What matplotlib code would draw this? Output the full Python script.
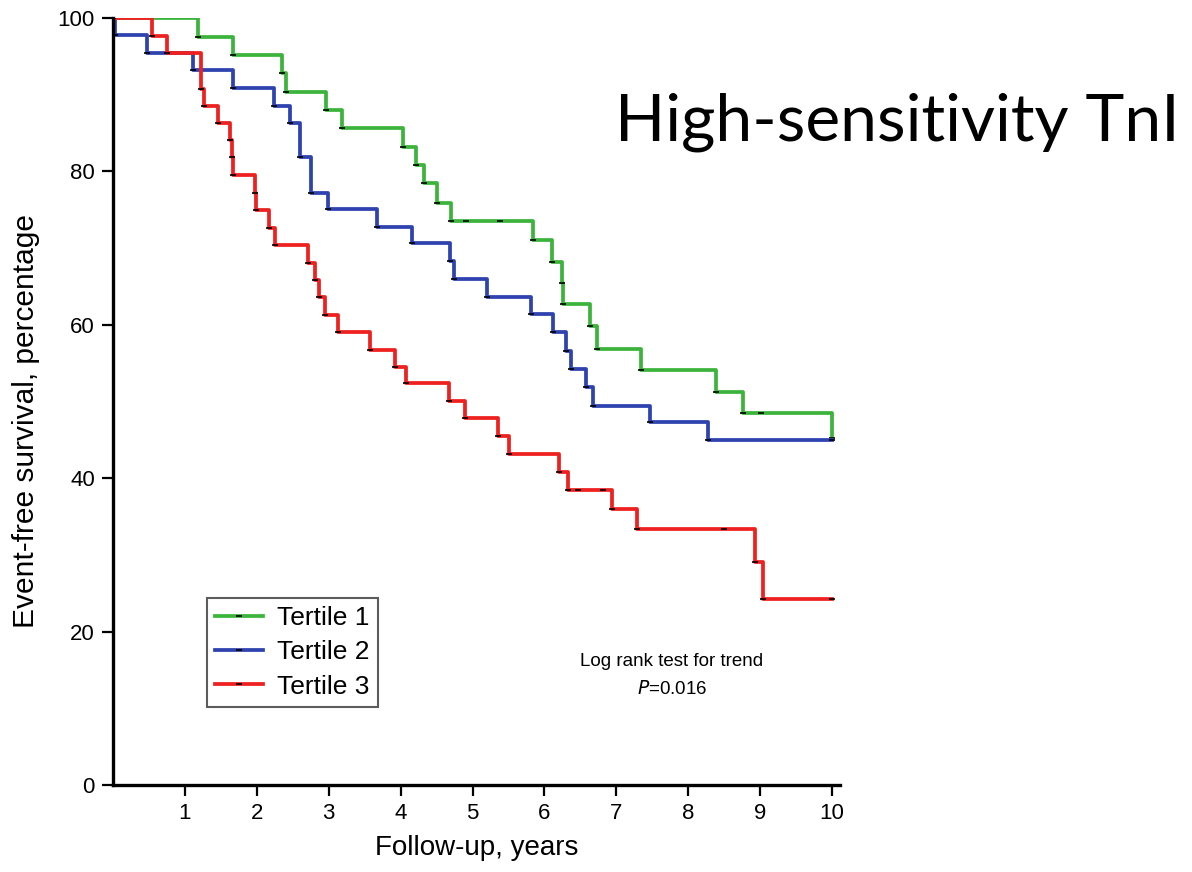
import matplotlib
matplotlib.use("Agg")
import matplotlib.pyplot as plt

# Kaplan-Meier steps (years, % event-free)
t1 = [0, 1.18, 1.67, 2.35, 2.41, 2.96, 3.18, 4.03, 4.21, 4.33, 4.50, 4.70,
      5.84, 6.11, 6.24, 6.26, 6.63, 6.73, 7.35, 8.39, 8.76, 10.0]
s1 = [100, 97.5, 95.2, 92.8, 90.3, 88.0, 85.7, 83.2, 80.8, 78.5, 75.9, 73.5,
      71.1, 68.2, 65.4, 62.7, 59.8, 56.8, 54.1, 51.2, 48.5, 45.2]

t2 = [0, 0.03, 0.47, 1.11, 1.67, 2.24, 2.46, 2.60, 2.75, 2.99, 3.67, 4.16,
      4.69, 4.74, 5.20, 5.81, 6.12, 6.30, 6.37, 6.58, 6.68, 7.47, 8.28, 10.0]
s2 = [100, 97.8, 95.4, 93.2, 90.9, 88.5, 86.3, 81.9, 77.2, 75.1, 72.8, 70.7,
      68.3, 66.0, 63.6, 61.4, 59.1, 56.6, 54.2, 51.9, 49.4, 47.3, 45.0, 45.0]

t3 = [0, 0.54, 0.75, 1.22, 1.26, 1.46, 1.63, 1.65, 1.67, 1.97, 1.99, 2.17,
      2.25, 2.71, 2.81, 2.87, 2.95, 3.13, 3.57, 3.92, 4.07, 4.67, 4.90, 5.35,
      5.51, 6.20, 6.33, 6.94, 7.29, 8.93, 9.04, 10.0]
s3 = [100, 97.6, 95.4, 90.8, 88.5, 86.3, 84.1, 81.9, 79.5, 77.2, 75.0, 72.6,
      70.4, 68.1, 65.8, 63.6, 61.3, 59.1, 56.7, 54.5, 52.4, 50.1, 47.8, 45.5,
      43.2, 40.8, 38.5, 36.0, 33.4, 29.1, 24.3, 24.3]

# censored observations (extra ticks on flat parts)
cens_t = [4.91, 5.38, 9.01, 6.47, 6.82, 8.50]
cens_s = [73.5, 73.5, 48.5, 38.5, 38.5, 33.4]

labels = ["Tertile 1", "Tertile 2", "Tertile 3"]
colors = ["#3cb43c", "#2e43b0", "#ee2020"]

W, H = 1192, 872
fig = plt.figure(figsize=(W / 100, H / 100), dpi=100)
x0, x1, y0, y1 = 113, 840, 18, 785
ax = fig.add_axes([x0 / W, 1 - y1 / H, (x1 - x0) / W, (y1 - y0) / H])

for t, s, c, lab in zip([t1, t2, t3], [s1, s2, s3], colors, labels):
    ax.step(t, s, where="post", color=c, lw=2.7, label=lab,
            marker="_", ms=5, mec="black", mew=1.2)
ax.plot(cens_t, cens_s, ls="none", marker="_", ms=5, mec="black", mew=1.2)

ax.set_xlim(0, 10 * (x1 - x0) / (832 - x0))
ax.set_ylim(0, 100)
ax.set_xticks(range(1, 11))
ax.set_yticks([0, 20, 40, 60, 80, 100])
for side in ["top", "right"]:
    ax.spines[side].set_visible(False)
for side in ["left", "bottom"]:
    ax.spines[side].set_linewidth(2.4)
ax.tick_params(length=8, width=1.6, labelsize=16, pad=5)
for lab in ax.get_xticklabels() + ax.get_yticklabels():
    lab.set_family("Liberation Sans")

ax.set_xlabel("Follow-up, years", family="Liberation Sans", size=20,
              labelpad=8)
ax.set_ylabel("Event-free survival, percentage", family="Liberation Sans",
              size=21.5)
ax.yaxis.set_label_coords(-0.1, 0.475)

leg = ax.legend(loc="upper left", bbox_to_anchor=(207 / W, 1 - 598 / H),
                bbox_transform=fig.transFigure, borderaxespad=0,
                fancybox=False, edgecolor="#333333", handlelength=1.8,
                handletextpad=0.55, labelspacing=0.38, borderpad=0.32,
                prop=dict(family="Liberation Sans", size=19))
leg.get_frame().set_linewidth(1.5)

fig.text(672 / W, 1 - 662 / H, "Log rank test for trend", ha="center",
         va="center", family="Liberation Sans", size=13.5)
fig.text(672 / W, 1 - 689 / H, r"$\it{P}$=0.016", ha="center", va="center",
         family="Liberation Sans", size=13.5)

fig.text(615 / W, 1 - 140 / H, "High-sensitivity TnI", ha="left",
         va="baseline", family="Lato", size=47.5)

fig.savefig("out.png", dpi=100)
